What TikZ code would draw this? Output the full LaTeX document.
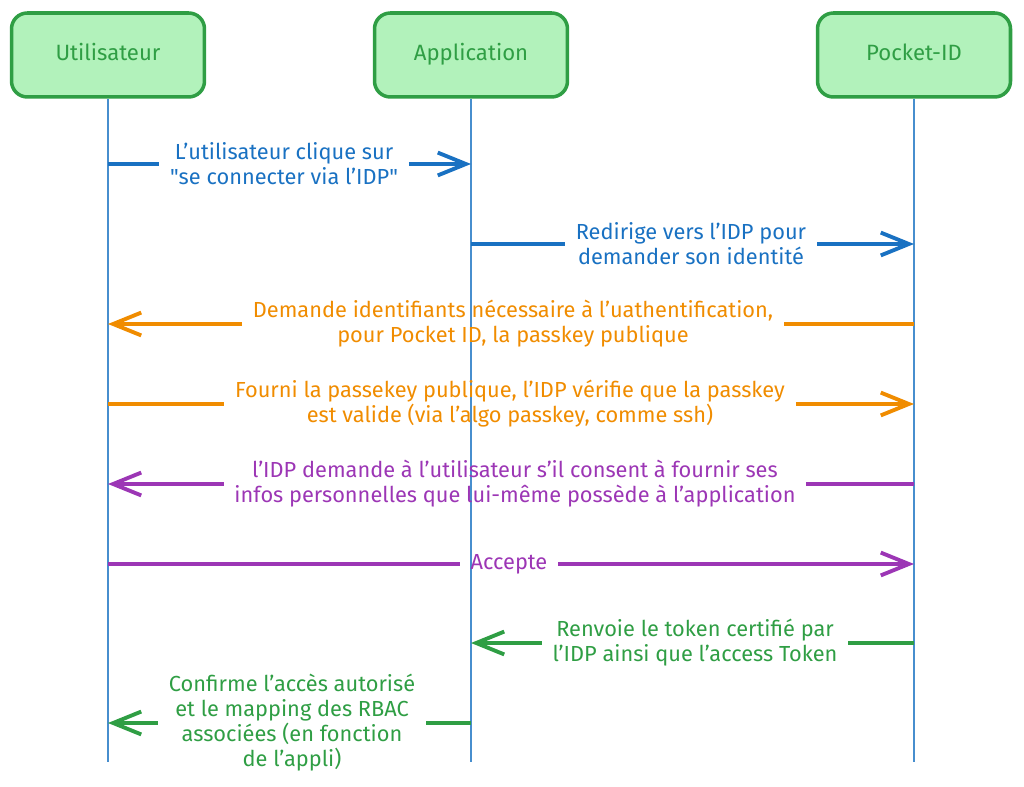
\documentclass[tikz,border=0pt]{standalone}
\usepackage{fontspec}
\setmainfont{Fira Sans}
\usetikzlibrary{arrows.meta}
\definecolor{xblue}{HTML}{1971C2}
\definecolor{xorange}{HTML}{F08C00}
\definecolor{xpurple}{HTML}{9C36B5}
\definecolor{xgreen}{HTML}{2F9E44}
\definecolor{xmint}{HTML}{B2F2BB}

\begin{document}
\begin{tikzpicture}[x=0.02cm,y=-0.02cm,>={Straight Barb[length=16pt,width=13pt]},
  actor/.style={draw=xgreen,fill=xmint,line width=2pt,rounded corners=9pt,
    minimum width=3.86cm,minimum height=1.68cm,text height=1.6ex,text depth=.4ex,
    text=xgreen,font=\fontsize{12.6}{15}\selectfont},
  life/.style={xblue!80,line width=1pt},
  msg/.style={align=center,inner sep=6pt,font=\fontsize{12.4}{14.2}\selectfont},
  flow/.style={line width=2.2pt}]
  \useasboundingbox (0,0) rectangle (1024,787);
  \node[actor] (user) at (108,55) {Utilisateur};
  \node[actor] (app) at (471,55) {Application};
  \node[actor] (idp) at (914,55) {Pocket-ID};
  \coordinate (bottom) at (0,762);
  \foreach \a in {user,app,idp}
    \draw[life] (\a.south) -- (\a |- bottom);

  \node[msg,text=xblue] (m1) at (284,164) {L'utilisateur clique sur\\\textquotedbl se connecter via l'IDP\textquotedbl};
  \draw[flow,xblue] (user |- m1) -- (m1.west);
  \draw[flow,xblue,->] (m1.east) -- (app |- m1);

  \node[msg,text=xblue] (m2) at (691,244) {Redirige vers l'IDP pour\\demander son identité};
  \draw[flow,xblue] (app |- m2) -- (m2.west);
  \draw[flow,xblue,->] (m2.east) -- (idp |- m2);

  \node[msg,text=xorange] (m3) at (513,324) {Demande identifiants nécessaire à l'uathentification,\\pour Pocket ID, la passkey publique};
  \draw[flow,xorange] (idp |- m3) -- (m3.east);
  \draw[flow,xorange,->] (m3.west) -- (user |- m3);

  \node[msg,text=xorange] (m4) at (510,404) {Fourni la passekey publique, l'IDP vérifie que la passkey\\est valide (via l'algo passkey, comme ssh)};
  \draw[flow,xorange] (user |- m4) -- (m4.west);
  \draw[flow,xorange,->] (m4.east) -- (idp |- m4);

  \node[msg,text=xpurple] (m5) at (515,484) {l'IDP demande à l'utilisateur s'il consent à fournir ses\\infos personnelles que lui-même possède à l'application};
  \draw[flow,xpurple] (idp |- m5) -- (m5.east);
  \draw[flow,xpurple,->] (m5.west) -- (user |- m5);

  \node[msg,text=xpurple] (m6) at (509,564) {Accepte};
  \draw[flow,xpurple] (user |- m6) -- (m6.west);
  \draw[flow,xpurple,->] (m6.east) -- (idp |- m6);

  \node[msg,text=xgreen] (m7) at (695,643) {Renvoie le token certifié par\\l'IDP ainsi que l'access Token};
  \draw[flow,xgreen] (idp |- m7) -- (m7.east);
  \draw[flow,xgreen,->] (m7.west) -- (app |- m7);

  \node[msg,text=xgreen] (m8) at (292,723) {Confirme l'accès autorisé\\et le mapping des RBAC\\associées (en fonction\\de l'appli)};
  \draw[flow,xgreen] (app |- m8) -- (m8.east);
  \draw[flow,xgreen,->] (m8.west) -- (user |- m8);
\end{tikzpicture}
\end{document}
